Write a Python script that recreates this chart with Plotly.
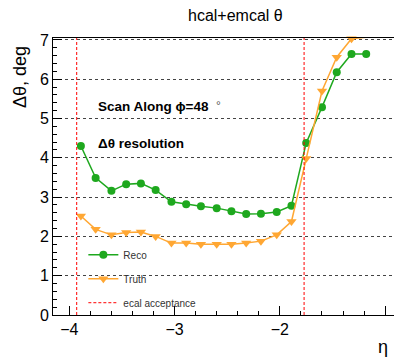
import plotly.graph_objects as go

eta = [-3.89, -3.75, -3.60, -3.46, -3.32, -3.18, -3.03, -2.89, -2.75, -2.60,
       -2.46, -2.32, -2.18, -2.03, -1.89, -1.75, -1.60, -1.46, -1.32, -1.18]
reco = [4.30, 3.49, 3.16, 3.33, 3.35, 3.18, 2.88, 2.82, 2.77, 2.72,
        2.64, 2.57, 2.58, 2.62, 2.78, 4.38, 5.29, 6.18, 6.64, 6.64]
truth = [2.52, 2.18, 2.04, 2.10, 2.11, 2.00, 1.83, 1.83, 1.80, 1.80,
         1.80, 1.83, 1.88, 2.04, 2.38, 3.98, 5.70, 6.56, 7.03, 7.07]
acc_eta = [-3.93, -1.77]
y_top = 7.05
x_range = [-4.155, -0.916]

GREEN = "#1ea81e"
ORANGE = "#ffa733"
RED = "#ff0000"
FONT = "Liberation Sans, Arial, sans-serif"

fig = go.Figure()
fig.add_trace(go.Scatter(x=eta, y=reco, mode="lines+markers", name="Reco",
                         legendgroup="a",
                         line=dict(color=GREEN, width=1.5),
                         marker=dict(symbol="circle", size=8, color=GREEN),
                         cliponaxis=False))
fig.add_trace(go.Scatter(x=eta, y=truth, mode="lines+markers", name="Truth",
                         legendgroup="b",
                         line=dict(color=ORANGE, width=1.5),
                         marker=dict(symbol="triangle-down", size=9, color=ORANGE),
                         cliponaxis=False))
vx, vy = [], []
for a in acc_eta:
    vx += [a, a, None]
    vy += [0, y_top, None]
fig.add_trace(go.Scatter(x=vx, y=vy, mode="lines", name="ecal acceptance",
                         legendgroup="c",
                         line=dict(color=RED, width=1, dash="3px,2px")))

fig.update_layout(
    width=394, height=357,
    margin=dict(l=53, r=0, t=38, b=42),
    paper_bgcolor="white", plot_bgcolor="white",
    font=dict(family=FONT, color="black"),
    showlegend=True,
    legend=dict(x=0.089, y=0.27, xanchor="left", yanchor="top",
                bgcolor="rgba(0,0,0,0)",
                font=dict(family=FONT, size=10, color="#333"),
                tracegroupgap=5, traceorder="grouped"),
    xaxis=dict(range=x_range, showgrid=False, zeroline=False,
               showline=True, linecolor="black", linewidth=1, mirror=True,
               ticks="inside", ticklen=9, tickcolor="black", dtick=1,
               tick0=-4, tickfont=dict(family=FONT, size=16),
               minor=dict(ticks="inside", ticklen=4, dtick=0.2, tickcolor="black")),
    yaxis=dict(range=[0, y_top], showgrid=True, gridcolor="#444",
               griddash="dot", gridwidth=1, zeroline=False,
               showline=True, linecolor="black", linewidth=1,
               ticks="inside", ticklen=9, tickcolor="black", dtick=1,
               tickfont=dict(family=FONT, size=16),
               minor=dict(ticks="inside", ticklen=4, dtick=0.2, tickcolor="black",
                          showgrid=False)),
)

fig.add_annotation(text="hcal+emcal θ", xref="paper", yref="paper",
                   x=(235.5 - 53) / 341, y=1 + (38 - 15) / 277.3,
                   showarrow=False, font=dict(family=FONT, size=16),
                   xanchor="center", yanchor="middle")
fig.add_annotation(text="Δθ, deg", xref="paper", yref="paper",
                   x=-(53 - 20) / 341, y=(315.3 - 77) / 277.3, textangle=-90,
                   showarrow=False, font=dict(family=FONT, size=18),
                   xanchor="center", yanchor="middle")
fig.add_annotation(text="η", xref="paper", yref="paper",
                   x=(383 - 53) / 341, y=-(347 - 315.3) / 277.3,
                   showarrow=False, font=dict(family=FONT, size=18),
                   xanchor="center", yanchor="middle")
fig.add_annotation(text="<b>Scan Along ϕ=48</b>", xref="paper", yref="paper",
                   x=(96 - 53) / 341, y=(315.3 - 107) / 277.3,
                   showarrow=False, font=dict(family=FONT, size=13.5),
                   xanchor="left", yanchor="middle")
fig.add_annotation(text="°", xref="paper", yref="paper",
                   x=(218 - 53) / 341, y=(315.3 - 106) / 277.3,
                   showarrow=False, font=dict(family=FONT, size=12, color="#555"),
                   xanchor="center", yanchor="middle")
fig.add_annotation(text="<b>Δθ resolution</b>", xref="paper", yref="paper",
                   x=(96 - 53) / 341, y=(315.3 - 144) / 277.3,
                   showarrow=False, font=dict(family=FONT, size=13.5),
                   xanchor="left", yanchor="middle")

fig.write_html("out.html")
